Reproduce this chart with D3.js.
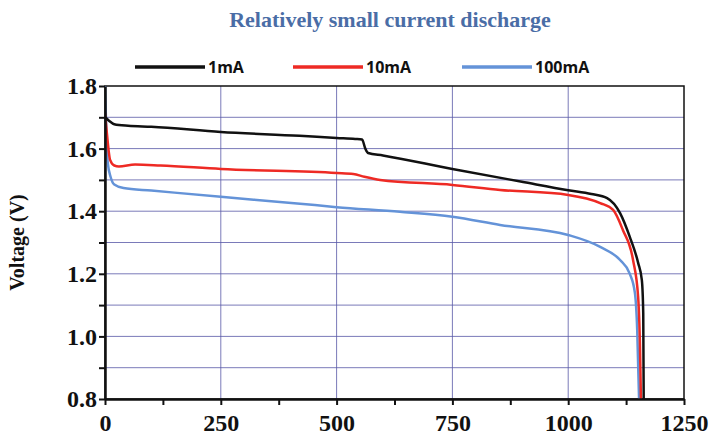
<!DOCTYPE html>
<html>
<head>
<meta charset="utf-8">
<script src="https://cdn.jsdelivr.net/npm/d3@7"></script>
<style>
  body { margin: 0; background: #fff; }
</style>
</head>
<body>
<script>
// data: capacity (x) vs voltage
const cap1 = [0, 8, 20, 50, 100, 250, 420, 500, 540, 555, 562, 568, 600, 750, 900, 1000, 1050, 1084, 1112, 1133, 1151, 1159, 1162, 1163]
const volt1 = [1.70, 1.69, 1.678, 1.673, 1.670, 1.653, 1.641, 1.634, 1.631, 1.629, 1.60, 1.586, 1.578, 1.535, 1.494, 1.467, 1.455, 1.442, 1.394, 1.318, 1.235, 1.18, 1.075, 0.8]

const cap10 = [0, 4, 11, 20, 30, 65, 120, 250, 500, 536, 560, 594, 750, 853, 1000, 1069, 1097, 1118, 1140, 1151, 1155, 1157]
const volt10 = [1.714, 1.65, 1.564, 1.546, 1.543, 1.549, 1.546, 1.535, 1.522, 1.519, 1.51, 1.50, 1.484, 1.468, 1.452, 1.426, 1.404, 1.34, 1.244, 1.126, 0.966, 0.8]

const cap100 = [0, 3, 6, 12, 20, 40, 100, 250, 421, 500, 637, 750, 853, 1000, 1069, 1112, 1133, 1144, 1149, 1153]
const volt100 = [1.8, 1.65, 1.554, 1.51, 1.485, 1.474, 1.466, 1.446, 1.424, 1.413, 1.398, 1.382, 1.356, 1.324, 1.286, 1.244, 1.20, 1.139, 1.02, 0.8]

const seriesNames = ["1mA", "10mA", "100mA"]
const seriesColors = ["#111111", "#ee2a24", "#6493d8"]
const xTicks = [0, 250, 500, 750, 1000, 1250]
const yTicks = [0.8, 1.0, 1.2, 1.4, 1.6, 1.8]

const W = 713, H = 437
const margin = {top: 86, right: 29, bottom: 38, left: 105}

const svg = d3.select("body").append("svg").attr("width", W).attr("height", H)

const x = d3.scaleLinear().domain([0, 1250]).range([margin.left, W - margin.right])
const y = d3.scaleLinear().domain([0.8, 1.8]).range([H - margin.bottom, margin.top])

// title
svg.append("text")
  .attr("x", 390).attr("y", 27)
  .attr("text-anchor", "middle")
  .style("font-family", "'Liberation Serif', serif")
  .style("font-weight", "bold")
  .style("font-size", "22px")
  .attr("fill", "#4a6da6")
  .text("Relatively small current discharge")

// grid
const gridColor = "#5a5aa8"
svg.append("g").selectAll("line")
  .data(d3.range(0.9, 1.8, 0.1))
  .enter().append("line")
    .attr("x1", x(0)).attr("x2", x(1250))
    .attr("y1", d => y(d)).attr("y2", d => y(d))
    .attr("stroke", gridColor).attr("stroke-width", 1).attr("opacity", 0.8)
svg.append("g").selectAll("line")
  .data([250, 500, 750, 1000])
  .enter().append("line")
    .attr("x1", d => x(d)).attr("x2", d => x(d))
    .attr("y1", y(0.8)).attr("y2", y(1.8))
    .attr("stroke", gridColor).attr("stroke-width", 1).attr("opacity", 0.8)

// frame
svg.append("rect")
  .attr("x", x(0)).attr("y", y(1.8))
  .attr("width", x(1250) - x(0)).attr("height", y(0.8) - y(1.8))
  .attr("fill", "none").attr("stroke", "#111").attr("stroke-width", 1.5)

// curves
svg.append("clipPath").attr("id", "clip")
  .append("rect")
  .attr("x", x(0)).attr("y", y(1.8) - 1)
  .attr("width", x(1250) - x(0)).attr("height", y(0.8) - y(1.8) + 1)

const series = [
  {cap: cap1, volt: volt1},
  {cap: cap10, volt: volt10},
  {cap: cap100, volt: volt100}
]
const line = d3.line().x(d => x(d[0])).y(d => y(d[1])).curve(d3.curveMonotoneX)

// draw 100mA first so black lies on top
series.map((s, i) => i).reverse().forEach(i => {
  const s = series[i]
  svg.append("path")
    .datum(s.cap.map((c, j) => [c, s.volt[j]]))
    .attr("clip-path", "url(#clip)")
    .attr("fill", "none")
    .attr("stroke", seriesColors[i])
    .attr("stroke-width", 2.5)
    .attr("d", line)
})

// axes
const tickFont = g => g.selectAll("text")
  .style("font-family", "'Liberation Serif', serif")
  .style("font-weight", "bold")
  .style("font-size", "24px")
  .attr("fill", "#111")

const xAxis = svg.append("g")
  .attr("transform", "translate(0," + y(0.8) + ")")
  .call(d3.axisBottom(x).tickValues(d3.range(0, 1251, 125)).tickSize(6).tickSizeOuter(0)
    .tickFormat(d => xTicks.includes(d) ? d : ""))
xAxis.select(".domain").attr("stroke-width", 2.5).attr("stroke", "#111")
xAxis.selectAll(".tick line").attr("stroke-width", 2).attr("stroke", "#111")
xAxis.selectAll("text").attr("dy", "0.95em")
xAxis.call(tickFont)

const yAxis = svg.append("g")
  .attr("transform", "translate(" + x(0) + ",0)")
  .call(d3.axisLeft(y).tickValues(d3.range(8, 19).map(d => d / 10)).tickSize(6).tickSizeOuter(0)
    .tickFormat(d => yTicks.some(t => Math.abs(t - d) < 1e-6) ? d3.format(".1f")(d) : ""))
yAxis.select(".domain").attr("stroke-width", 2.5).attr("stroke", "#111")
yAxis.selectAll(".tick line").attr("stroke-width", 2).attr("stroke", "#111")
yAxis.selectAll("text").attr("x", -8)
yAxis.call(tickFont)

// y label
svg.append("text")
  .attr("transform", "translate(24," + ((y(0.8) + y(1.8)) / 2) + ") rotate(-90)")
  .attr("text-anchor", "middle")
  .style("font-family", "'Liberation Serif', serif")
  .style("font-weight", "bold")
  .style("font-size", "20px")
  .attr("fill", "#111")
  .text("Voltage (V)")

// legend
const legendX = [135, 293, 462]
const legend = svg.append("g")
seriesNames.forEach((name, i) => {
  legend.append("line")
    .attr("x1", legendX[i]).attr("x2", legendX[i] + 70)
    .attr("y1", 67).attr("y2", 67)
    .attr("stroke", seriesColors[i]).attr("stroke-width", 3.5)
  legend.append("text")
    .attr("x", legendX[i] + 73).attr("y", 73)
    .style("font-family", "'Open Sans', sans-serif")
    .style("font-weight", "bold")
    .style("font-size", "16px")
    .attr("fill", "#111")
    .text(name)
})
</script>
</body>
</html>
